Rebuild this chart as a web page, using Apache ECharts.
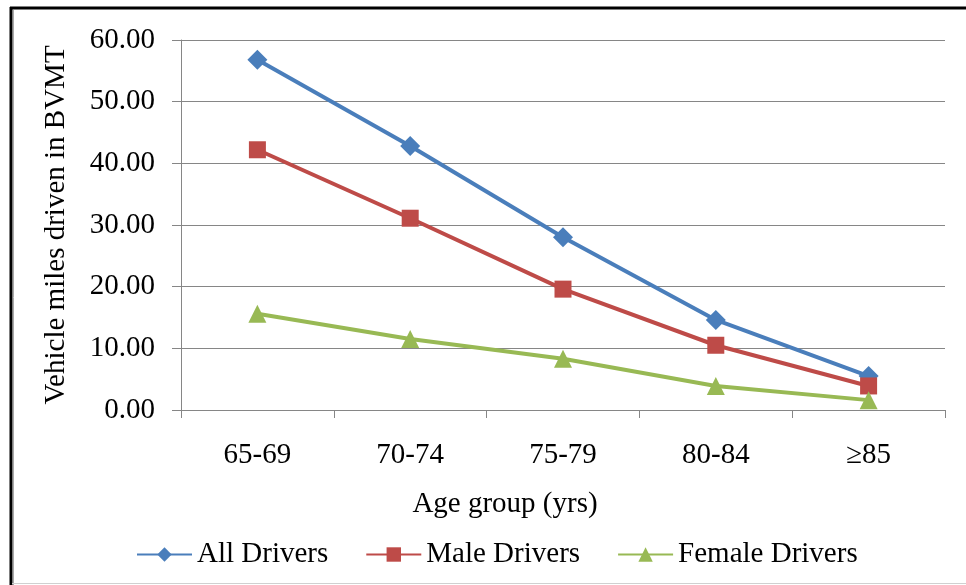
<!DOCTYPE html>
<html><head><meta charset="utf-8">
<script src="https://cdn.jsdelivr.net/npm/echarts@6/dist/echarts.min.js"></script>
<style>html,body{margin:0;padding:0;background:#fff}#c{width:966px;height:585px}</style>
</head><body><div id="c"></div>
<script>
var categories = ['65-69', '70-74', '75-79', '80-84', '≥85'];
var allDrivers = [56.8, 42.8, 28.0, 14.6, 5.5];
var maleDrivers = [42.2, 31.1, 19.6, 10.5, 3.9];
var femaleDrivers = [15.6, 11.5, 8.3, 3.9, 1.6];
var seriesNames = ['All Drivers', 'Male Drivers', 'Female Drivers'];
var yTicks = { min: 0, max: 60, interval: 10 };

var font = 'Liberation Serif';
var fs = 29;
var chart = echarts.init(document.getElementById('c'));
chart.setOption({
  animation: false,
  backgroundColor: '#fff',
  textStyle: { fontFamily: font, color: '#000' },
  grid: { left: 181, right: 21, top: 40, bottom: 175 },
  graphic: [
    { type: 'line', shape: { x1: 10, y1: 8, x2: 966, y2: 8 }, style: { stroke: '#000', lineWidth: 3 } },
    { type: 'line', shape: { x1: 11, y1: 7, x2: 11, y2: 585 }, style: { stroke: '#000', lineWidth: 3 } },
    { type: 'line', shape: { x1: 13.5, y1: 10, x2: 13.5, y2: 585 }, style: { stroke: '#aaa', lineWidth: 1 } },
    { type: 'line', shape: { x1: 12, y1: 583.5, x2: 966, y2: 583.5 }, style: { stroke: '#d0d0d0', lineWidth: 1 } }
  ],
  legend: {
    top: 535, left: 131,
    itemWidth: 55, itemHeight: 18, itemGap: 37,
    textStyle: { fontFamily: font, fontSize: fs, color: '#000' },
    data: seriesNames
  },
  xAxis: {
    type: 'category', data: categories, boundaryGap: true,
    name: 'Age group (yrs)', nameLocation: 'middle', nameGap: 80,
    nameTextStyle: { fontFamily: font, fontSize: fs, color: '#000', padding: [0, 116, 0, 0] },
    axisLine: { lineStyle: { color: '#868686', width: 1 } },
    axisTick: { show: true, length: 8, inside: false, lineStyle: { color: '#868686' } },
    axisLabel: { fontFamily: font, fontSize: fs, color: '#000', margin: 31 }
  },
  yAxis: {
    type: 'value', min: yTicks.min, max: yTicks.max, interval: yTicks.interval,
    name: 'Vehicle miles driven in BVMT', nameLocation: 'middle', nameGap: 110,
    nameTextStyle: { fontFamily: font, fontSize: fs, color: '#000' },
    axisLine: { show: true, lineStyle: { color: '#868686', width: 1 } },
    axisTick: { show: true, length: 9, lineStyle: { color: '#868686' } },
    splitLine: { lineStyle: { color: '#868686', width: 1 } },
    axisLabel: { fontFamily: font, fontSize: fs, color: '#000', margin: 26,
      formatter: function (v) { return v.toFixed(2); } }
  },
  series: [
    { name: seriesNames[0], type: 'line', data: allDrivers, symbol: 'diamond', symbolSize: 20,
      itemStyle: { color: '#4a7ebb' }, lineStyle: { width: 4, color: '#4a7ebb' }, z: 2 },
    { name: seriesNames[1], type: 'line', data: maleDrivers, symbol: 'rect', symbolSize: 17,
      itemStyle: { color: '#be4b48' }, lineStyle: { width: 4, color: '#be4b48' }, z: 3 },
    { name: seriesNames[2], type: 'line', data: femaleDrivers, symbol: 'triangle', symbolSize: 18,
      itemStyle: { color: '#98b954' }, lineStyle: { width: 4, color: '#98b954' }, z: 4 }
  ]
});
</script></body></html>
